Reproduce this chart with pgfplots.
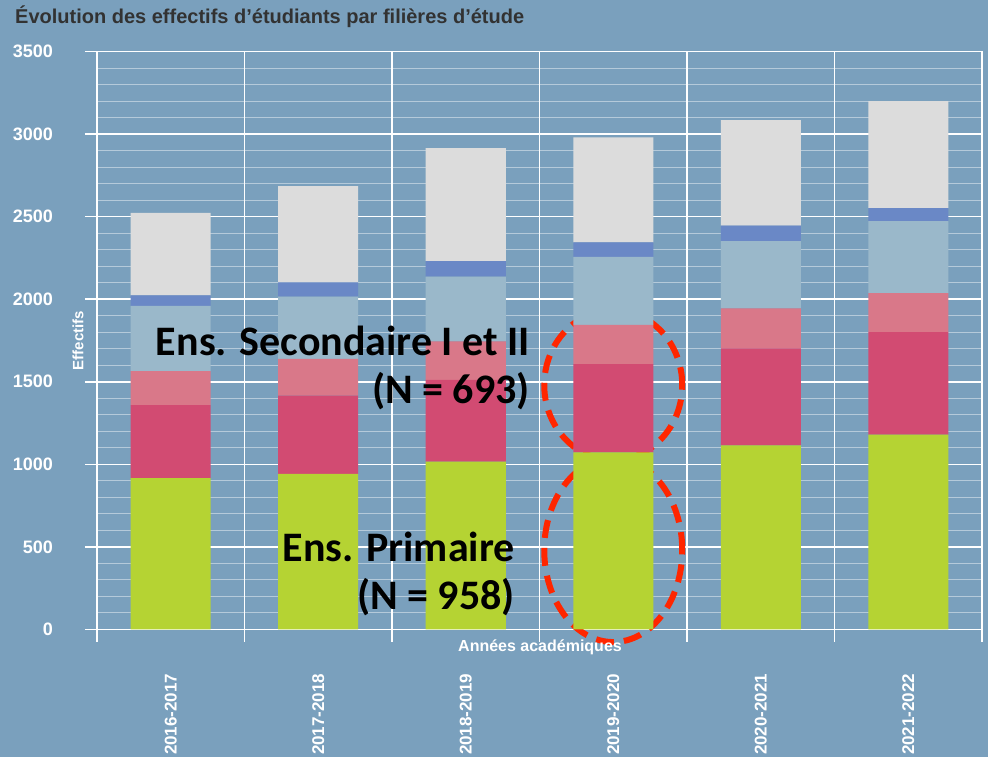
\documentclass[border=0pt]{standalone}
\usepackage{pgfplots}
\pgfplotsset{compat=1.18}
\usepackage{fontspec}
\setmainfont{Liberation Sans}
\newfontfamily\calib{Carlito}
\definecolor{bg}{RGB}{122,160,189}
\definecolor{cgreen}{RGB}{181,211,51}
\definecolor{cpink}{RGB}{210,75,114}
\definecolor{clpink}{RGB}{217,120,137}
\definecolor{clblue}{RGB}{154,184,202}
\definecolor{cblue}{RGB}{106,136,198}
\definecolor{cgrey}{RGB}{220,220,220}
\definecolor{ctitle}{RGB}{50,50,50}
\definecolor{cred}{RGB}{255,38,0}
\begin{document}
\begin{tikzpicture}
\useasboundingbox (-97pt,-127.5pt) rectangle (891pt,629.5pt);
\clip (-97pt,-127.5pt) rectangle (891pt,629.5pt);
\fill[bg] (-97pt,-127.5pt) rectangle (891pt,629.5pt);
\begin{axis}[
  at={(0pt,0pt)}, anchor=south west,
  scale only axis, width=885pt, height=578pt,
  xmin=-0.5, xmax=5.5, ymin=0, ymax=3500,
  clip=false,
  ybar stacked, bar width=80pt,
  axis x line*=bottom, axis y line*=left,
  axis line style={white, line width=1.5pt, -},
  xtick={-0.5,0.5,...,5.5}, xticklabels={},
  xmajorgrids=true,
  extra x ticks={0,1,2,3,4,5},
  extra x tick labels={2016-2017,2017-2018,2018-2019,2019-2020,2020-2021,2021-2022},
  extra x tick style={grid=none, major tick length=0pt, tick style={draw=none}},
  ytick={0,500,...,3500}, minor y tick num=4,
  ymajorgrids=true, yminorgrids=true,
  major grid style={white, line width=1.5pt},
  minor grid style={white, opacity=0.45, line width=1pt},
  tick align=outside, major tick length=12pt, minor tick length=0pt,
  tick style={white, line width=1.5pt},
  /pgf/number format/assume math mode=true,
  /pgf/number format/1000 sep={},
  scaled y ticks=false,
  yticklabel style={font=\fontsize{18}{18}\selectfont\bfseries, text=white, anchor=east, inner sep=0pt},
  yticklabel shift=32pt,
  xticklabel style={overlay, font=\fontsize{17}{17}\selectfont\bfseries, text=white, rotate=90, anchor=east, inner sep=0pt},
  xticklabel shift=44pt,
  ylabel={Effectifs},
  ylabel style={at={(axis description cs:-0.0215,0.5)}, anchor=center, rotate=0, font=\fontsize{15}{15}\selectfont\bfseries, text=white},
  xlabel={Années académiques},
  xlabel style={at={(axis description cs:0.5006,-0.03)}, anchor=center, font=\fontsize{16}{16}\selectfont\bfseries, text=white},
]
\addplot[fill=cgreen, draw=none] coordinates {(0,917) (1,943) (2,1016) (3,1073) (4,1115) (5,1180)};
\addplot[fill=cpink, draw=none] coordinates {(0,442) (1,473) (2,495) (3,534) (4,587) (5,621)};
\addplot[fill=clpink, draw=none] coordinates {(0,206) (1,222) (2,234) (3,238) (4,243) (5,236)};
\addplot[fill=clblue, draw=none] coordinates {(0,394) (1,377) (2,391) (3,412) (4,407) (5,436)};
\addplot[fill=cblue, draw=none] coordinates {(0,64) (1,87) (2,95) (3,87) (4,93) (5,79)};
\addplot[fill=cgrey, draw=none] coordinates {(0,500) (1,583) (2,684) (3,636) (4,640) (5,648)};
\draw[cred, line width=6pt, dash pattern=on 18pt off 10pt] (axis cs:3.0,1480) ellipse [x radius=69pt, y radius=75pt];
\draw[cred, line width=6pt, dash pattern=on 18pt off 10pt] (axis cs:3.0,481) ellipse [x radius=69pt, y radius=92pt];
\end{axis}
\node[anchor=base east, inner sep=0pt, font=\calib\bfseries\fontsize{42}{42}\selectfont] at (433pt,273.5pt) {Ens. Secondaire I et II};
\node[anchor=base east, inner sep=0pt, font=\calib\bfseries\fontsize{42}{42}\selectfont] at (433pt,225.5pt) {(N = 693)};
\node[anchor=base east, inner sep=0pt, font=\calib\bfseries\fontsize{42}{42}\selectfont] at (418pt,67.5pt) {Ens. Primaire};
\node[anchor=base east, inner sep=0pt, font=\calib\bfseries\fontsize{42}{42}\selectfont] at (418pt,19.5pt) {(N = 958)};
\node[anchor=base west, inner sep=0pt, text=ctitle, font=\fontsize{20}{20}\selectfont\bfseries] at (-82pt,606pt) {Évolution des effectifs d’étudiants par filières d’étude};
\end{tikzpicture}
\end{document}
